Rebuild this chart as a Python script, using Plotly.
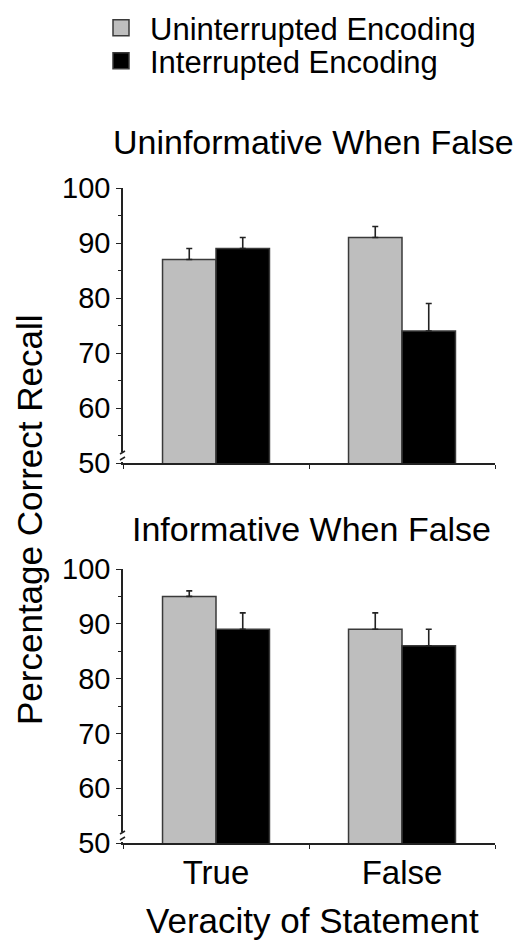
import plotly.graph_objects as go

categories = ["True", "False"]
series_names = ["Uninterrupted Encoding", "Interrupted Encoding"]
panel_titles = ["Uninformative When False", "Informative When False"]

# Panel 1: Uninformative When False
p1_uninterrupted = [87, 91]
p1_uninterrupted_err = [2, 2]
p1_interrupted = [89, 74]
p1_interrupted_err = [2, 5]

# Panel 2: Informative When False
p2_uninterrupted = [95, 89]
p2_uninterrupted_err = [1, 3]
p2_interrupted = [89, 86]
p2_interrupted_err = [3, 3]

y_ticks = [50, 60, 70, 80, 90, 100]

FONT = "Liberation Sans, Arial, Helvetica, sans-serif"
GRAY = "#bebebe"
BLACK = "#000000"
EDGE = "#3a3a3a"

# page body has an 8px default margin; figure fills the rest of the window
OFF = 8
W, H = 527 - OFF, 942 - OFF


def PX(px):
    return (px - OFF) / W


def PY(py):
    return 1 - (py - OFF) / H


fig = go.Figure()

panels = [
    (p1_uninterrupted, p1_uninterrupted_err, p1_interrupted, p1_interrupted_err, "x", "y"),
    (p2_uninterrupted, p2_uninterrupted_err, p2_interrupted, p2_interrupted_err, "x2", "y2"),
]

for (u, ue, i, ie, xa, ya) in panels:
    for vals, errs, color in ((u, ue, GRAY), (i, ie, BLACK)):
        fig.add_trace(go.Bar(
            x=categories, y=vals, xaxis=xa, yaxis=ya,
            marker=dict(color=color, line=dict(color=EDGE, width=1.5)),
            error_y=dict(type="data", symmetric=False, array=errs,
                         arrayminus=[0] * len(errs),
                         color="#222222", thickness=1.6, width=3),
            showlegend=False, hoverinfo="y",
        ))

# legend proxies (one legend box per row for exact row spacing)
for name, color, lg in zip(series_names, (GRAY, BLACK), ("legend", "legend2")):
    fig.add_trace(go.Scatter(
        x=[None], y=[None], mode="markers", name=name, legend=lg,
        marker=dict(symbol="square", size=16, color=color,
                    line=dict(color=EDGE, width=1.5)),
        xaxis="x", yaxis="y",
    ))

xdom = [PX(123), PX(495)]
ydom1 = [PY(463), PY(188)]
ydom2 = [PY(843), PY(569)]

yaxis_common = dict(
    range=[50, 100], tickvals=y_ticks, ticks="outside", ticklen=5,
    tickwidth=1.2, tickcolor="#222", showline=True, linecolor="#222",
    linewidth=1.5, showgrid=False, zeroline=False,
    tickfont=dict(size=29, color="black", family=FONT),
    minor=dict(dtick=5, ticks="outside", ticklen=3, tickcolor="#222", showgrid=False),
)
xaxis_common = dict(
    type="category", range=[-0.5, 1.5], tickson="boundaries",
    ticks="outside", ticklen=4, tickcolor="#222", showline=True,
    linecolor="#222", linewidth=1.5, showgrid=False, zeroline=False,
    tickfont=dict(size=33, color="black", family=FONT),
)

legend_common = dict(
    xanchor="left", yanchor="top",
    font=dict(size=31, family=FONT, color="black"),
    bgcolor="rgba(0,0,0,0)", itemsizing="trace", itemwidth=48,
)

fig.update_layout(
    width=W, height=H,
    margin=dict(l=0, r=0, t=0, b=0, autoexpand=False),
    paper_bgcolor="white", plot_bgcolor="white",
    barmode="group", bargap=0.425, bargroupgap=0,
    font=dict(family=FONT, color="black"),
    xaxis=dict(domain=xdom, anchor="y", showticklabels=False, **xaxis_common),
    yaxis=dict(domain=ydom1, anchor="x", **yaxis_common),
    xaxis2=dict(domain=xdom, anchor="y2", showticklabels=True, **xaxis_common),
    yaxis2=dict(domain=ydom2, anchor="x2", **yaxis_common),
    legend=dict(x=PX(92), y=PY(1), **legend_common),
    legend2=dict(x=PX(92), y=PY(34), **legend_common),
    showlegend=True,
)

annotations = [
    dict(text=panel_titles[0], x=PX(313.5), y=PY(142), xref="paper", yref="paper",
         showarrow=False, xanchor="center", yanchor="middle",
         font=dict(size=34, family=FONT, color="black")),
    dict(text=panel_titles[1], x=PX(311.5), y=PY(529), xref="paper", yref="paper",
         showarrow=False, xanchor="center", yanchor="middle",
         font=dict(size=34, family=FONT, color="black")),
    dict(text="Percentage Correct Recall", x=PX(29), y=PY(520), xref="paper", yref="paper",
         showarrow=False, xanchor="center", yanchor="middle", textangle=-90,
         font=dict(size=35, family=FONT, color="black")),
    dict(text="Veracity of Statement", x=PX(312), y=PY(920), xref="paper", yref="paper",
         showarrow=False, xanchor="center", yanchor="middle",
         font=dict(size=35, family=FONT, color="black")),
]
fig.update_layout(annotations=annotations)

# axis break marks
shapes = []
for xr, yr in (("x domain", "y domain"), ("x2 domain", "y2 domain")):
    shapes.append(dict(type="line", xref=xr, yref=yr, x0=0, x1=0,
                       ysizemode="pixel", yanchor=0, y0=1, y1=11,
                       line=dict(color="white", width=4), layer="above"))
    shapes.append(dict(type="line", xref=xr, yref=yr,
                       xsizemode="pixel", xanchor=0, x0=-3, x1=2,
                       ysizemode="pixel", yanchor=0, y0=9, y1=12,
                       line=dict(color="#222", width=1.5), layer="above"))
    shapes.append(dict(type="line", xref=xr, yref=yr,
                       xsizemode="pixel", xanchor=0, x0=-3, x1=2,
                       ysizemode="pixel", yanchor=0, y0=3, y1=6,
                       line=dict(color="#222", width=1.5), layer="above"))
fig.update_layout(shapes=shapes)

fig.write_html("out.html")
